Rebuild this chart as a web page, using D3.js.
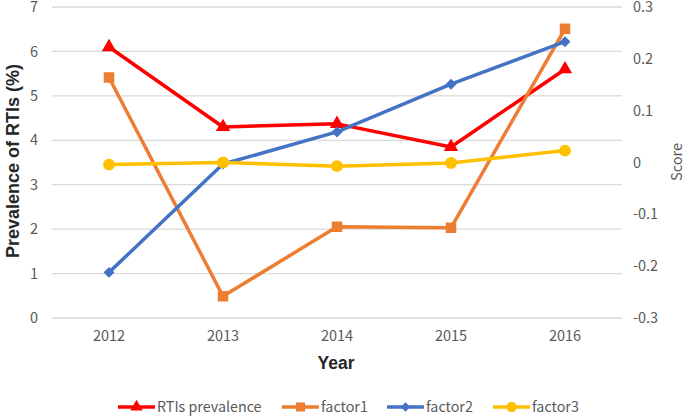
<!DOCTYPE html>
<html><head><meta charset="utf-8">
<script src="https://cdn.jsdelivr.net/npm/d3@7"></script>
<style>body{margin:0;background:#fff;}svg{display:block;}</style>
</head><body><svg id="c" width="685" height="416"></svg>
<script>
const years = ["2012","2013","2014","2015","2016"];
const rtis = [6.1, 4.3, 4.37, 3.85, 5.6];
const factor1 = [0.164, -0.258, -0.124, -0.126, 0.258];
const factor2 = [-0.212, -0.003, 0.059, 0.151, 0.233];
const factor3 = [-0.004, 0.0, -0.007, -0.001, 0.023];
const leftTicks = [0,1,2,3,4,5,6,7];
const rightTicks = [-0.3,-0.2,-0.1,0,0.1,0.2,0.3];

const svg = d3.select("#c");
const font = "'Noto Sans CJK SC', 'Noto Sans', sans-serif";
const boldFont = "'Liberation Sans', Arial, sans-serif";
const x = d3.scaleBand().domain(years).range([52, 622]);
const yL = d3.scaleLinear().domain([0,7]).range([318, 7]);
const yR = d3.scaleLinear().domain([-0.3,0.3]).range([318, 7]);
const cx = d => x(d) + x.bandwidth()/2;

// gridlines
svg.append("g").selectAll("line").data(leftTicks).join("line")
  .attr("x1", 52).attr("x2", 622)
  .attr("y1", d => yL(d)).attr("y2", d => yL(d))
  .attr("stroke", "#d9d9d9").attr("stroke-width", 1.3);

// left ticks
svg.append("g").selectAll("text").data(leftTicks).join("text")
  .attr("x", 38).attr("y", d => yL(d)).attr("dy", "0.35em")
  .attr("text-anchor", "end").attr("fill", "#595959")
  .style("font-family", font).style("font-size", "14.5px").text(d => d);
// right ticks
svg.append("g").selectAll("text").data(rightTicks).join("text")
  .attr("x", 633).attr("y", d => yR(d)).attr("dy", "0.35em")
  .attr("text-anchor", "start").attr("fill", "#595959")
  .style("font-family", font).style("font-size", "14.5px")
  .text(d => String(+d.toFixed(1)));
// x ticks
svg.append("g").selectAll("text").data(years).join("text")
  .attr("x", d => cx(d)).attr("y", 336).attr("dy", "0.35em")
  .attr("text-anchor", "middle").attr("fill", "#595959")
  .style("font-family", font).style("font-size", "14.5px").text(d => d);

// axis titles
svg.append("text").attr("x", 336).attr("y", 363).attr("dy", "0.35em")
  .attr("text-anchor", "middle").attr("fill", "#262626")
  .style("font-family", boldFont).style("font-weight", "bold").style("font-size", "17.5px").text("Year");
svg.append("text").attr("transform", "translate(13,161) rotate(-90)").attr("dy", "0.35em")
  .attr("text-anchor", "middle").attr("fill", "#262626")
  .style("font-family", boldFont).style("font-weight", "bold").style("font-size", "18px").text("Prevalence of RTIs (%)");
svg.append("text").attr("transform", "translate(677,162) rotate(-90)").attr("dy", "0.35em")
  .attr("text-anchor", "middle").attr("fill", "#595959")
  .style("font-family", font).style("font-size", "14.5px").text("Score");

const series = [
  {name:"RTIs prevalence", vals:rtis, y:yL, color:"#FF0000", sym:d3.symbolTriangle, size:90, rot:0},
  {name:"factor1", vals:factor1, y:yR, color:"#ED7D31", sym:d3.symbolSquare, size:110, rot:0},
  {name:"factor2", vals:factor2, y:yR, color:"#4472C4", sym:d3.symbolSquare, size:60, rot:45},
  {name:"factor3", vals:factor3, y:yR, color:"#FFC000", sym:d3.symbolCircle, size:110, rot:0}
];
const line = (s) => d3.line().x((d,i) => cx(years[i])).y(d => s.y(d));
series.forEach(s => {
  const g = svg.append("g");
  g.append("path").datum(s.vals).attr("d", line(s)).attr("fill","none")
    .attr("stroke", s.color).attr("stroke-width", 3.5).attr("stroke-linejoin","round");
  g.selectAll("path.m").data(s.vals).join("path").attr("class","m")
    .attr("transform", (d,i) => `translate(${cx(years[i])},${s.y(d)}) rotate(${s.rot})`)
    .attr("d", d3.symbol().type(s.sym).size(s.size)).attr("fill", s.color);
});

// legend
const legX = [118, 282, 387, 493];
const leg = svg.append("g");
series.forEach((s,i) => {
  const lx = legX[i], ly = 407;
  leg.append("line").attr("x1", lx).attr("x2", lx+37).attr("y1", ly).attr("y2", ly)
    .attr("stroke", s.color).attr("stroke-width", 3.5);
  leg.append("path").attr("transform", `translate(${lx+18.5},${ly}) rotate(${s.rot})`)
    .attr("d", d3.symbol().type(s.sym).size(s.size*0.75)).attr("fill", s.color);
  leg.append("text").attr("x", lx+39).attr("y", ly).attr("dy","0.35em")
    .attr("fill","#595959").style("font-family", font).style("font-size","14.3px").text(s.name);
});
</script></body></html>
